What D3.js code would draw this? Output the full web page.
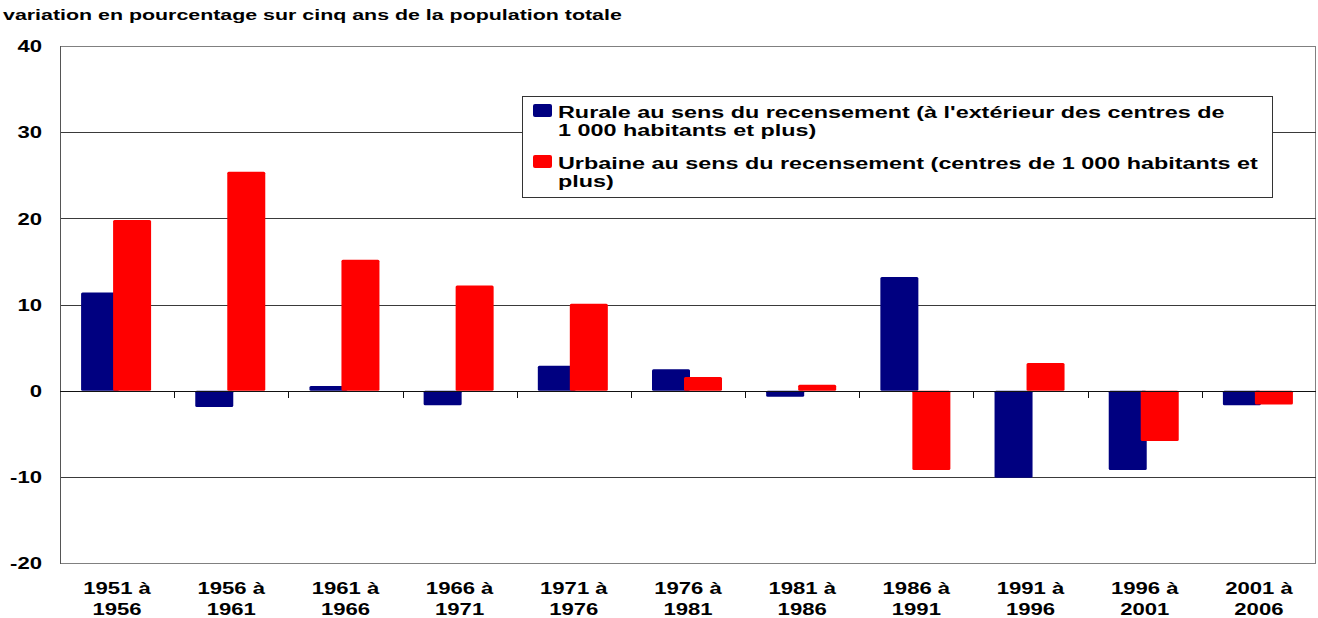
<!DOCTYPE html>
<html>
<head>
<meta charset="utf-8">
<script src="https://cdn.jsdelivr.net/npm/d3@7"></script>
<style>
  html, body { margin: 0; padding: 0; background: #fff; }
  svg { display: block; }
  text { font-family: "Liberation Sans", Arial, sans-serif; font-weight: bold; fill: #000; }
</style>
</head>
<body>
<svg id="chart" width="1318" height="618"></svg>
<script>
// ---- data ----
const categories = ["1951 à 1956", "1956 à 1961", "1961 à 1966", "1966 à 1971", "1971 à 1976",
  "1976 à 1981", "1981 à 1986", "1986 à 1991", "1991 à 1996", "1996 à 2001", "2001 à 2006"];
const rurale = [11.4, -1.9, 0.55, -1.7, 2.9, 2.5, -0.7, 13.2, -10.1, -9.2, -1.7];
const urbaine = [19.8, 25.4, 15.2, 12.2, 10.1, 1.6, 0.7, -9.2, 3.2, -5.85, -1.6];
const yTicks = [-20, -10, 0, 10, 20, 30, 40];
const seriesNames = [
  ["Rurale au sens du recensement (à l'extérieur des centres de", "1 000 habitants et plus)"],
  ["Urbaine au sens du recensement (centres de 1 000 habitants et", "plus)"]
];
const seriesColors = ["#000080", "#ff0000"];
const title = "variation en pourcentage sur cinq ans de la population totale";

// ---- layout ----
const SX = 1.38; // horizontal stretch of text in reference
const svg = d3.select("#chart");
const pLeft = 60, pRight = 1316, pTop = 46, pBottom = 563;

const x = d3.scaleBand().domain(categories).range([pLeft, pRight]).padding(0);
const y = d3.scaleLinear().domain([-20, 40]).range([pBottom, pTop]);

function stretch(sel, k) {
  const f = k || SX;
  sel.each(function () {
    const w = this.getComputedTextLength();
    this.setAttribute("textLength", w * f);
    this.setAttribute("lengthAdjust", "spacingAndGlyphs");
  });
}

// plot border
svg.append("rect")
  .attr("x", pLeft + 0.5).attr("y", pTop + 0.5)
  .attr("width", pRight - pLeft - 1).attr("height", pBottom - pTop)
  .attr("fill", "none").attr("stroke", "#808080").attr("stroke-width", 1);

// gridlines
svg.append("g").selectAll("line")
  .data(yTicks.filter(t => t !== 40 && t !== -20 && t !== 0))
  .join("line")
  .attr("x1", pLeft).attr("x2", pRight)
  .attr("y1", d => Math.round(y(d)) + 0.5).attr("y2", d => Math.round(y(d)) + 0.5)
  .attr("stroke", "#3a3a3a").attr("stroke-width", 1);

// left axis line
svg.append("line")
  .attr("x1", pLeft + 0.5).attr("x2", pLeft + 0.5)
  .attr("y1", pTop).attr("y2", pBottom + 1)
  .attr("stroke", "#555").attr("stroke-width", 1);

// y axis labels
const yAxis = d3.axisLeft(y).tickValues(yTicks).tickSize(0).tickPadding(18)
  .tickFormat(d => String(d));
const gy = svg.append("g").attr("transform", `translate(${pLeft},0)`).call(yAxis);
gy.select(".domain").remove();
gy.selectAll("text")
  .style("font-family", "'Liberation Sans', Arial, sans-serif")
  .style("font-weight", "bold")
  .style("font-size", "16px")
  .attr("fill", "#000")
  .attr("dy", "0.36em")
  .call(stretch);

// bars
const barW = 38;
const offsets = [-36, -4];
const seriesData = [rurale, urbaine];
seriesData.forEach((vals, si) => {
  svg.append("g").selectAll("rect")
    .data(categories.map((c, i) => ({ c, v: vals[i] })))
    .join("rect")
    .attr("x", d => x(d.c) + x.bandwidth() / 2 + offsets[si])
    .attr("y", d => Math.min(y(d.v), y(0)))
    .attr("width", barW)
    .attr("height", d => Math.abs(y(d.v) - y(0)))
    .attr("rx", 1.5)
    .attr("fill", seriesColors[si]);
});

// zero line
svg.append("line")
  .attr("x1", pLeft).attr("x2", pRight)
  .attr("y1", Math.round(y(0)) + 0.5).attr("y2", Math.round(y(0)) + 0.5)
  .attr("stroke", "#111").attr("stroke-width", 1);

// category tick marks at band boundaries
svg.append("g").selectAll("line")
  .data(categories.slice(1))
  .join("line")
  .attr("x1", d => Math.round(x(d)) + 0.5).attr("x2", d => Math.round(x(d)) + 0.5)
  .attr("y1", Math.round(y(0))).attr("y2", Math.round(y(0)) + 7)
  .attr("stroke", "#111").attr("stroke-width", 1);

// category labels (two lines)
const gx = svg.append("g");
categories.forEach(c => {
  const parts = c.split(" à ");
  const cx = x(c) + x.bandwidth() / 2;
  gx.append("text").attr("x", cx).attr("y", 594).attr("text-anchor", "middle")
    .style("font-size", "16px").text(parts[0] + " à").call(stretch);
  gx.append("text").attr("x", cx).attr("y", 615).attr("text-anchor", "middle")
    .style("font-size", "16px").text(parts[1]).call(stretch);
});

// title
svg.append("text").attr("x", 3).attr("y", 20)
  .style("font-size", "15px").text(title).call(stretch, 1.425);

// legend
const lg = svg.append("g");
lg.append("rect").attr("x", 522.5).attr("y", 96.5).attr("width", 750).attr("height", 101)
  .attr("fill", "#fff").attr("stroke", "#333").attr("stroke-width", 1);
const legendRows = [{ y: 104, base: 118 }, { y: 155, base: 169 }];
seriesNames.forEach((lines, i) => {
  lg.append("rect").attr("x", 533).attr("y", legendRows[i].y).attr("width", 19).attr("height", 13)
    .attr("rx", 2).attr("fill", seriesColors[i]);
  lines.forEach((t, j) => {
    lg.append("text").attr("x", 558).attr("y", legendRows[i].base + j * 18)
      .style("font-size", "16px").text(t).call(stretch, 1.46);
  });
});
</script>
</body>
</html>
